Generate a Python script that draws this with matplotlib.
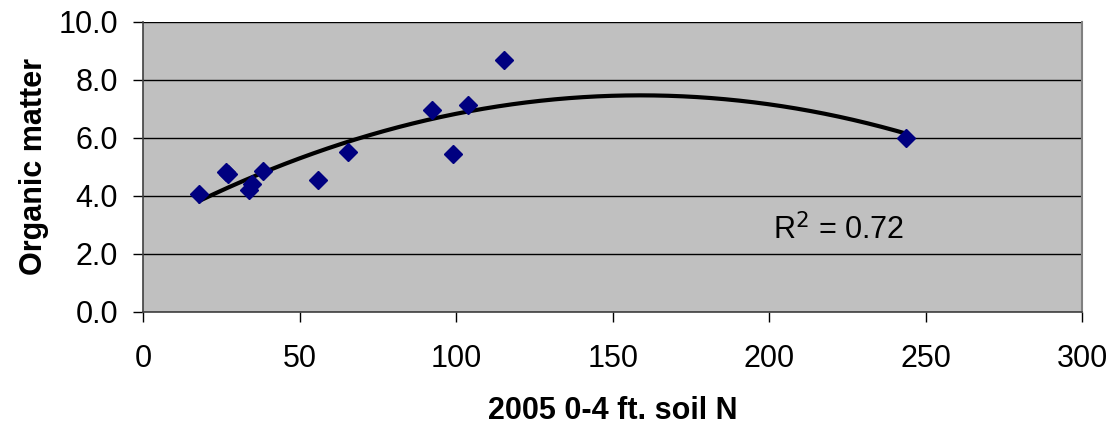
import numpy as np
import matplotlib.pyplot as plt

plt.rcParams['font.family'] = ['Liberation Sans', 'DejaVu Sans']

# soil N (x) vs organic matter (y)
soilN = [18, 26.5, 27, 33.7, 34.7, 38.2, 56, 65.3, 92.2, 99.1, 103.7, 115.3, 243.8]
organic = [4.05, 4.84, 4.75, 4.21, 4.4, 4.87, 4.55, 5.53, 6.95, 5.45, 7.12, 8.69, 6.01]
r2_text = '0.72'

x = np.array(soilN)
y = np.array(organic)

# polynomial trendline (like excel)
coef = np.polyfit(x, y, 2)
xt = np.linspace(x.min(), x.max(), 200)
yt = np.polyval(coef, xt)

fig = plt.figure(figsize=(11.18, 4.29), dpi=100)
ax = fig.add_axes([0.128, 0.273, 0.84, 0.676])
ax.set_facecolor('#C0C0C0')

ax.plot(xt, yt, color='black', lw=3, zorder=3)
ax.plot(x, y, 'D', color='#000080', ms=9, zorder=4, linestyle='none')

ax.set_xlim(0, 300)
ax.set_ylim(0, 10)
ax.set_xticks(np.arange(0, 301, 50))
ax.set_yticks(np.arange(0, 10.1, 2))
ax.set_yticklabels(['%.1f' % v for v in np.arange(0, 10.1, 2)])
ax.yaxis.grid(True, color='black', lw=1)
ax.set_axisbelow(True)

for s in ['left', 'bottom']:
    ax.spines[s].set_color('#404040')
    ax.spines[s].set_linewidth(1.2)
ax.spines['top'].set_visible(False)
ax.spines['right'].set_color('#808080')
ax.spines['right'].set_linewidth(1.5)

ax.tick_params(axis='both', labelsize=22, length=7, width=1, direction='out', color='black')
ax.tick_params(axis='y', pad=11)
ax.tick_params(axis='x', pad=16)

ax.set_xlabel('2005 0-4 ft. soil N', fontsize=22, fontweight='bold', labelpad=16)
ax.set_ylabel('Organic matter', fontsize=22, fontweight='bold', labelpad=7)

ax.text(222, 2.83, 'R$^2$ = ' + r2_text, fontsize=22, ha='center', va='center')

fig.savefig('out.png', dpi=100)
